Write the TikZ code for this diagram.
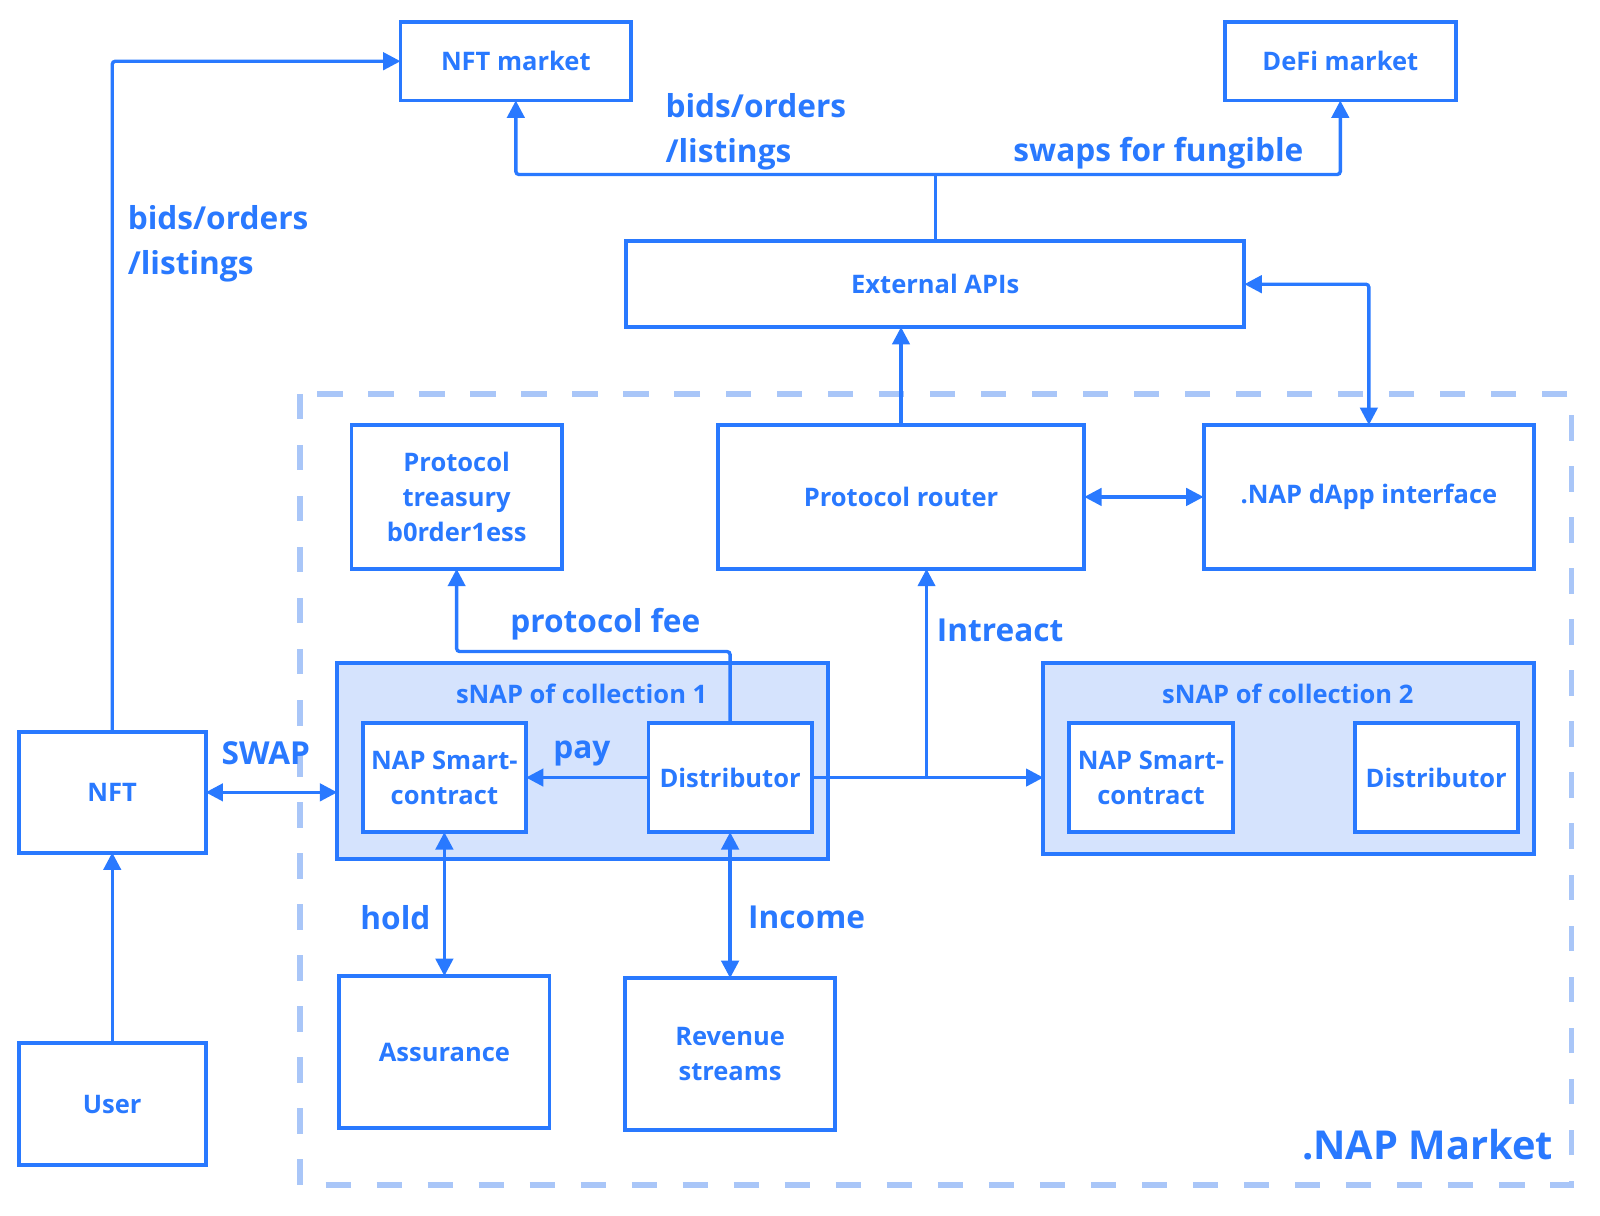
\documentclass[tikz,border=0pt]{standalone}
\usepackage{fontspec}
\setmainfont{Open Sans}
\usetikzlibrary{arrows.meta}
\definecolor{mb}{HTML}{2979FF}
\definecolor{lb}{HTML}{D5E3FD}
\definecolor{db}{HTML}{A9C6F8}
\begin{document}
\begin{tikzpicture}[x=1pt,y=-1pt,
  box/.style={draw=mb, line width=3.8pt, fill=white, text=mb, font=\bfseries\fontsize{25}{34}\selectfont, align=center, inner sep=0pt, outer sep=0pt},
  group/.style={box, fill=lb},
  ttl/.style={text=mb, font=\bfseries\fontsize{25}{30}\selectfont, inner sep=0pt},
  lbl/.style={text=mb, font=\bfseries\fontsize{31}{44}\selectfont, inner sep=0pt, align=left, anchor=west},
  conn/.style={draw=mb, line width=3.3pt, rounded corners=3pt},
  tip/.style={-{Triangle[length=17pt,width=17pt]}},
  dtip/.style={{Triangle[length=17pt,width=17pt]}-{Triangle[length=17pt,width=17pt]}}]
\useasboundingbox (0,0) rectangle (1568,1191);
% market region
\draw[db, line width=5.5pt, dash pattern=on 25pt off 25pt] (294,386) rectangle (1540,1161);
% boxes
\node[box, minimum width=226pt, minimum height=77pt] (nftm) at (505.5,60) {NFT market};
\node[box, minimum width=226pt, minimum height=77pt] (defi) at (1313.5,60) {DeFi market};
\node[box, minimum width=606pt, minimum height=84pt] (ext) at (916.5,278.5) {External APIs};
\node[box, minimum width=206pt, minimum height=141pt] (treas) at (447.5,487) {Protocol\\treasury\\b0rder1ess};
\node[box, minimum width=359pt, minimum height=141pt] (router) at (883,487) {Protocol router};
\node[box, minimum width=324pt, minimum height=141pt] (dapp) at (1341.5,487) {.NAP dApp interface};
\node[group, minimum width=481pt, minimum height=192pt] (snap1) at (571,745.5) {};
\node[ttl] (t1) at (570,680) {sNAP of collection 1};
\node[box, minimum width=160pt, minimum height=107pt] (nsc1) at (435.5,762) {NAP Smart-\\contract};
\node[box, minimum width=160pt, minimum height=107pt] (dist1) at (715.5,762) {Distributor};
\node[group, minimum width=481pt, minimum height=187pt] (snap2) at (1263,743) {};
\node[ttl] (t2) at (1262,680) {sNAP of collection 2};
\node[box, minimum width=161pt, minimum height=107pt] (nsc2) at (1128,762) {NAP Smart-\\contract};
\node[box, minimum width=160pt, minimum height=107pt] (dist2) at (1407.5,762) {Distributor};
\node[box, minimum width=183pt, minimum height=118pt] (nft) at (110,776.5) {NFT};
\node[box, minimum width=183pt, minimum height=119pt] (user) at (110,1082) {User};
\node[box, minimum width=206pt, minimum height=149pt] (ass) at (435.5,1031) {Assurance};
\node[box, minimum width=206pt, minimum height=149pt] (rev) at (715.5,1033) {Revenue\\streams};
% connectors
\draw[conn,tip] (nft.north) |- (nftm.west);
\draw[conn,tip] (user.north) -- (nft.south);
\draw[conn,dtip] (nft.east) -- (snap1.west |- nft.east);
\coordinate (br) at (916.5,171);
\draw[conn] (ext.north) -- (br);
\draw[conn,tip] (br) -| (nftm.south);
\draw[conn,tip] (br) -| (defi.south);
\draw[conn,tip] (router.north) -- (router.north |- ext.south);
\draw[conn,dtip] (dapp.north) |- (ext.east);
\draw[conn,dtip] (router.east) -- (dapp.west);
\draw[conn,tip] (dist1.north) -- ++(0,-70) -| (treas.south);
\draw[conn,tip] (dist1.west) -- (nsc1.east);
\draw[conn,tip] (dist1.east) -- (snap2.west |- dist1.east);
\coordinate (jn) at (908,762);
\draw[conn,tip] (jn) -- (jn |- router.south);
\draw[conn,dtip] (nsc1.south) -- (ass.north);
\draw[conn,dtip] (dist1.south) -- (rev.north);
% labels
\node[lbl] (l1) at (125,239) {bids/orders\\/listings};
\node[lbl] (l2) at (652,129) {bids/orders\\/listings};
\node[lbl] (l3) at (993,150) {swaps for fungible};
\node[lbl] (l4) at (217,738) {SWAP};
\node[lbl] (l5) at (500,612) {protocol fee};
\node[lbl] (l6) at (918,618) {Intreact};
\node[lbl] (l7) at (542,738) {pay};
\node[lbl] (l8) at (353,899) {hold};
\node[lbl] (l9) at (733,899) {Income};
\node[lbl, font=\bfseries\fontsize{39}{44}\selectfont] (l10) at (1276,1122) {.NAP Market};
\end{tikzpicture}
\end{document}
